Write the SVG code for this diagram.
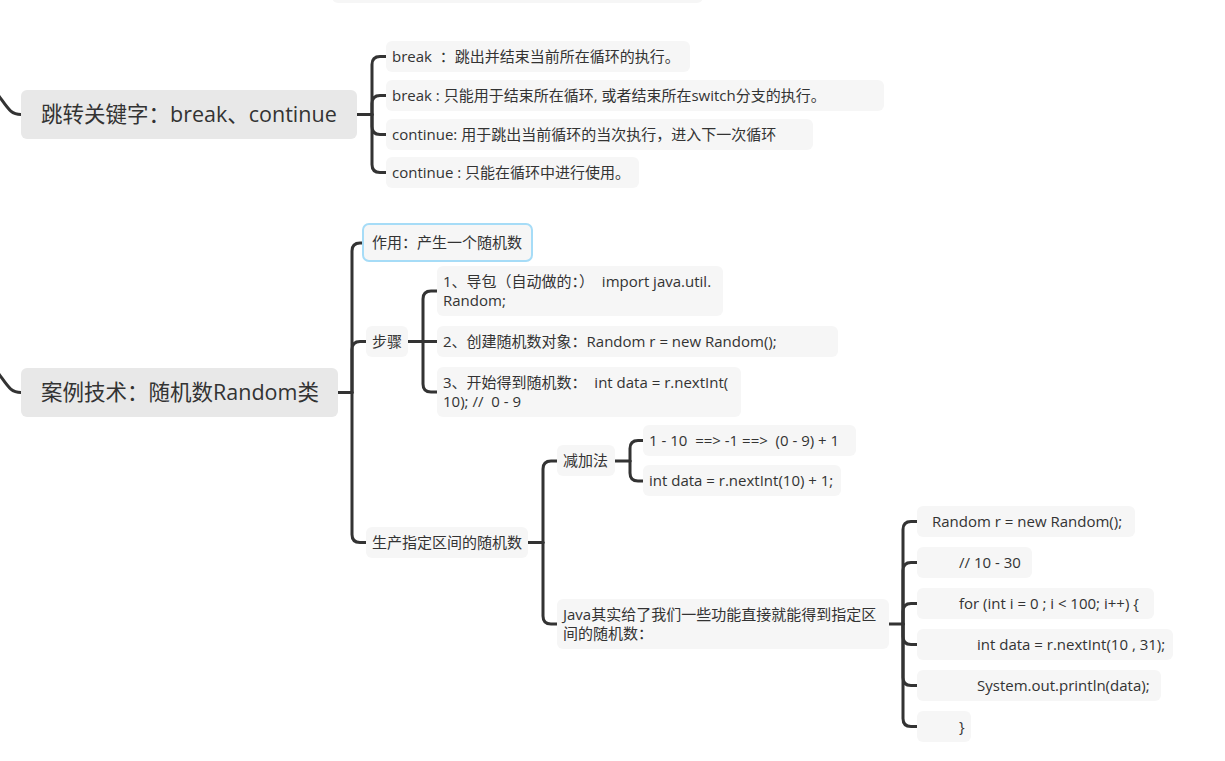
<svg xmlns="http://www.w3.org/2000/svg" width="1225" height="761" viewBox="0 0 1225 761">
<style>
.bg{fill:#ffffff}
.main{fill:#e8e8e8}
.sub{fill:#f6f6f6}
.sel{fill:#f6f6f6;stroke:#a6dcf7;stroke-width:2}
.t1{font-family:"Open Sans","Noto Sans CJK SC",sans-serif;font-size:21.5px;fill:#333333}
.t2{font-family:"Open Sans","Noto Sans CJK SC",sans-serif;font-size:15px;fill:#333333}
.ln{fill:none;stroke:#333333;stroke-width:3;stroke-linecap:round;stroke-linejoin:round}
</style>
<rect class="bg" x="0" y="0" width="1225" height="761"/>
<rect class="sub" x="332" y="-30" width="371" height="33" rx="6"/>
<g id="connectors">
<path class="ln" d="M -4 92 C 8 108 10 114.5 21 114.5"/>
<path class="ln" d="M -4 370 C 8 386 10 392.5 21 392.5"/>
<path class="ln" d="M 357 114.5 H 372"/>
<path class="ln" d="M 372 114.5 V 64.5 Q 372 56.5 380 56.5 H 386"/>
<path class="ln" d="M 372 114.5 V 103.5 Q 372 95.5 380 95.5 H 386"/>
<path class="ln" d="M 372 114.5 V 126.5 Q 372 134.5 380 134.5 H 386"/>
<path class="ln" d="M 372 114.5 V 164.5 Q 372 172.5 380 172.5 H 386"/>
<path class="ln" d="M 338 392.5 H 352"/>
<path class="ln" d="M 352 392.5 V 251 Q 352 243 360 243 H 363"/>
<path class="ln" d="M 352 392.5 V 349.5 Q 352 341.5 360 341.5 H 366"/>
<path class="ln" d="M 352 392.5 V 534.5 Q 352 542.5 360 542.5 H 366"/>
<path class="ln" d="M 408 341.5 H 423"/>
<path class="ln" d="M 423 341.5 V 299 Q 423 291 431 291 H 437"/>
<path class="ln" d="M 423 341.5 H 437"/>
<path class="ln" d="M 423 341.5 V 384 Q 423 392 431 392 H 437"/>
<path class="ln" d="M 528 542.5 H 543"/>
<path class="ln" d="M 543 542.5 V 469 Q 543 461 551 461 H 557"/>
<path class="ln" d="M 543 542.5 V 616 Q 543 624 551 624 H 557"/>
<path class="ln" d="M 615 461 H 630"/>
<path class="ln" d="M 630 461 V 448.5 Q 630 440.5 638 440.5 H 643"/>
<path class="ln" d="M 630 461 V 473 Q 630 481 638 481 H 643"/>
<path class="ln" d="M 889 624 H 903"/>
<path class="ln" d="M 903 624 V 529.5 Q 903 521.5 911 521.5 H 917"/>
<path class="ln" d="M 903 624 V 570.5 Q 903 562.5 911 562.5 H 917"/>
<path class="ln" d="M 903 624 V 611.5 Q 903 603.5 911 603.5 H 917"/>
<path class="ln" d="M 903 624 V 636.5 Q 903 644.5 911 644.5 H 917"/>
<path class="ln" d="M 903 624 V 677.5 Q 903 685.5 911 685.5 H 917"/>
<path class="ln" d="M 903 624 V 718.5 Q 903 726.5 911 726.5 H 917"/>
</g>
<g id="n-jump">
<rect class="main" x="21" y="90" width="336" height="49" rx="6"/>
<text class="t1" x="41" y="122">跳转关键字：break、continue</text>
</g>
<g id="n-jump-1">
<rect class="sub" x="386" y="41" width="304" height="31" rx="6"/>
<text class="t2" x="392" y="61.5" xml:space="preserve">break  ：跳出并结束当前所在循环的执行。</text>
</g>
<g id="n-jump-2">
<rect class="sub" x="386" y="80" width="498" height="31" rx="6"/>
<text class="t2" x="392" y="100.5">break : 只能用于结束所在循环, 或者结束所在switch分支的执行。</text>
</g>
<g id="n-jump-3">
<rect class="sub" x="386" y="119" width="427" height="31" rx="6"/>
<text class="t2" x="392" y="139.5">continue:  用于跳出当前循环的当次执行，进入下一次循环</text>
</g>
<g id="n-jump-4">
<rect class="sub" x="386" y="157" width="253" height="31" rx="6"/>
<text class="t2" x="392" y="177.5">continue : 只能在循环中进行使用。</text>
</g>
<g id="n-random">
<rect class="main" x="21" y="368" width="317" height="49" rx="6"/>
<text class="t1" x="41" y="400">案例技术：随机数Random类</text>
</g>
<g id="n-use">
<rect class="sel" x="363" y="224" width="169" height="37" rx="6"/>
<text class="t2" x="372" y="248">作用：产生一个随机数</text>
</g>
<g id="n-steps">
<rect class="sub" x="366" y="326" width="42" height="31" rx="6"/>
<text class="t2" x="372" y="346.5">步骤</text>
</g>
<g id="n-step1">
<rect class="sub" x="437" y="266" width="286" height="50" rx="6"/>
<text class="t2" x="443" y="286.5" xml:space="preserve">1、导包（自动做的：）  import java.util.</text>
<text class="t2" x="443" y="305.5">Random;</text>
</g>
<g id="n-step2">
<rect class="sub" x="437" y="326" width="401" height="31" rx="6"/>
<text class="t2" x="443" y="346.5">2、创建随机数对象：Random r = new Random();</text>
</g>
<g id="n-step3">
<rect class="sub" x="437" y="367" width="304" height="50" rx="6"/>
<text class="t2" x="443" y="387.5" xml:space="preserve">3、开始得到随机数：  int data = r.nextInt(</text>
<text class="t2" x="443" y="406.5" xml:space="preserve">10); //  0 - 9</text>
</g>
<g id="n-range">
<rect class="sub" x="366" y="527" width="162" height="31" rx="6"/>
<text class="t2" x="372" y="547.5">生产指定区间的随机数</text>
</g>
<g id="n-addsub">
<rect class="sub" x="557" y="445" width="58" height="31" rx="6"/>
<text class="t2" x="563" y="465.5">减加法</text>
</g>
<g id="n-addsub-1">
<rect class="sub" x="643" y="425" width="213" height="31" rx="6"/>
<text class="t2" x="649" y="445.5" xml:space="preserve">1 - 10  ==&gt; -1 ==&gt;  (0 - 9) + 1</text>
</g>
<g id="n-addsub-2">
<rect class="sub" x="643" y="465" width="198" height="31" rx="6"/>
<text class="t2" x="649" y="486">int data = r.nextInt(10) + 1;</text>
</g>
<g id="n-java">
<rect class="sub" x="557" y="599" width="332" height="50" rx="6"/>
<text class="t2" x="563" y="619.5">Java其实给了我们一些功能直接就能得到指定区</text>
<text class="t2" x="563" y="638.5">间的随机数：</text>
</g>
<g id="n-code1">
<rect class="sub" x="917" y="506" width="218" height="31" rx="6"/>
<text class="t2" x="932" y="526.5">Random r = new Random();</text>
</g>
<g id="n-code2">
<rect class="sub" x="917" y="547" width="115" height="31" rx="6"/>
<text class="t2" x="959" y="567.5">// 10 - 30</text>
</g>
<g id="n-code3">
<rect class="sub" x="917" y="588" width="237" height="31" rx="6"/>
<text class="t2" x="959" y="608.5">for (int i = 0 ; i &lt; 100; i++) {</text>
</g>
<g id="n-code4">
<rect class="sub" x="917" y="629" width="256" height="31" rx="6"/>
<text class="t2" x="977" y="649.5">int data = r.nextInt(10 , 31);</text>
</g>
<g id="n-code5">
<rect class="sub" x="917" y="670" width="244" height="31" rx="6"/>
<text class="t2" x="977" y="690.5">System.out.println(data);</text>
</g>
<g id="n-code6">
<rect class="sub" x="917" y="711" width="54" height="31" rx="6"/>
<text class="t2" x="959" y="731.5">}</text>
</g>
</svg>
